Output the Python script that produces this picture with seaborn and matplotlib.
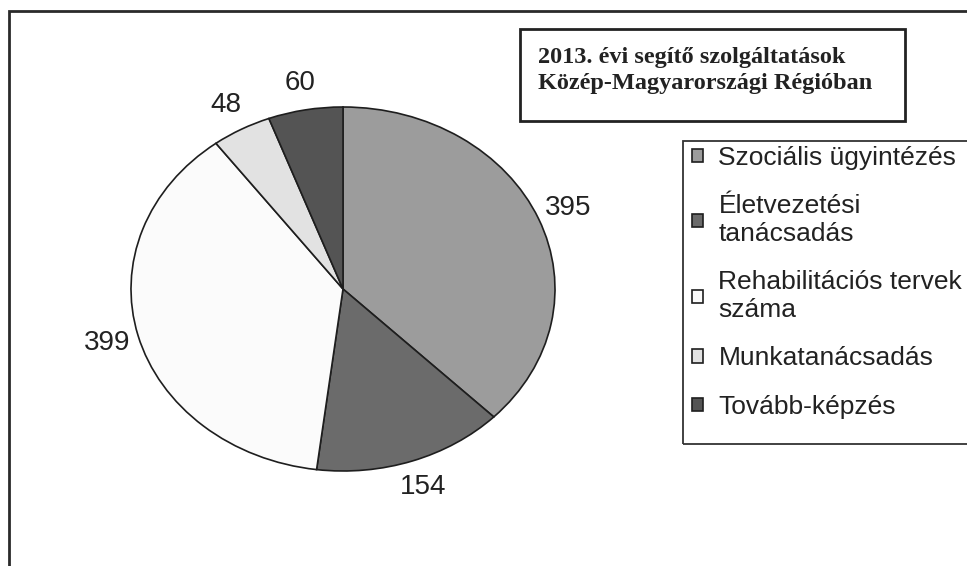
import matplotlib
matplotlib.use('Agg')
import matplotlib.pyplot as plt
import seaborn as sns
from matplotlib.patches import Rectangle

categories = ['Szociális ügyintézés', 'Életvezetési\ntanácsadás',
              'Rehabilitációs tervek\nszáma', 'Munkatanácsadás', 'Tovább-képzés']
values = [395, 154, 399, 48, 60]
colors = ['#9c9c9c', '#6b6b6b', '#fbfbfb', '#e2e2e2', '#545454']
title_lines = ['2013. évi segítő szolgáltatások', 'Közép-Magyarországi Régióban']

sns.set_theme(style='white')
plt.rcParams['font.family'] = ['Liberation Sans', 'DejaVu Sans']

W, H = 967, 566
fig = plt.figure(figsize=(W / 100, H / 100), dpi=100)

def fx(px):
    return px / W

def fy(py):
    return 1 - py / H

# pie area (slightly flattened ellipse like the scan)
ax = fig.add_axes([fx(131), fy(471), fx(424), 364 / H])
wedges, texts = ax.pie(values, labels=[str(v) for v in values], colors=colors,
                       startangle=90, counterclock=False, labeldistance=1.15,
                       wedgeprops=dict(edgecolor='#1e1e1e', linewidth=1.2),
                       textprops=dict(fontsize=20, color='#222222'))
for t in texts:
    t.set_ha('center')
    t.set_va('center')
ax.set_aspect('auto')
ax.set_xlim(-1, 1)
ax.set_ylim(-1, 1)

# outer frame
fig.patches.append(Rectangle((fx(9), fy(600)), fx(1000), 589 / H, transform=fig.transFigure,
                             fill=False, edgecolor='#2a2a2a', linewidth=2))

# title box
fig.patches.append(Rectangle((fx(520), fy(121)), fx(385), 92 / H, transform=fig.transFigure,
                             fill=False, edgecolor='#222222', linewidth=2))
for i, line in enumerate(title_lines):
    fig.text(fx(538), fy(57 + 27 * i), line, family='Liberation Serif', fontweight='bold',
             fontsize=17.5, color='#222222', va='center', ha='left')

# legend box
fig.patches.append(Rectangle((fx(683), fy(444)), fx(400), 303 / H, transform=fig.transFigure,
                             fill=False, edgecolor='#333333', linewidth=1.3))
leg = fig.legend(wedges, categories, loc='upper left', bbox_to_anchor=(fx(692), fy(146)),
                 frameon=False, fontsize=19, labelspacing=0.92, handlelength=0.4,
                 handleheight=0.4, handletextpad=0.6, borderpad=0, borderaxespad=0,
                 labelcolor='#222222')

plt.savefig('out.png', dpi=100)
